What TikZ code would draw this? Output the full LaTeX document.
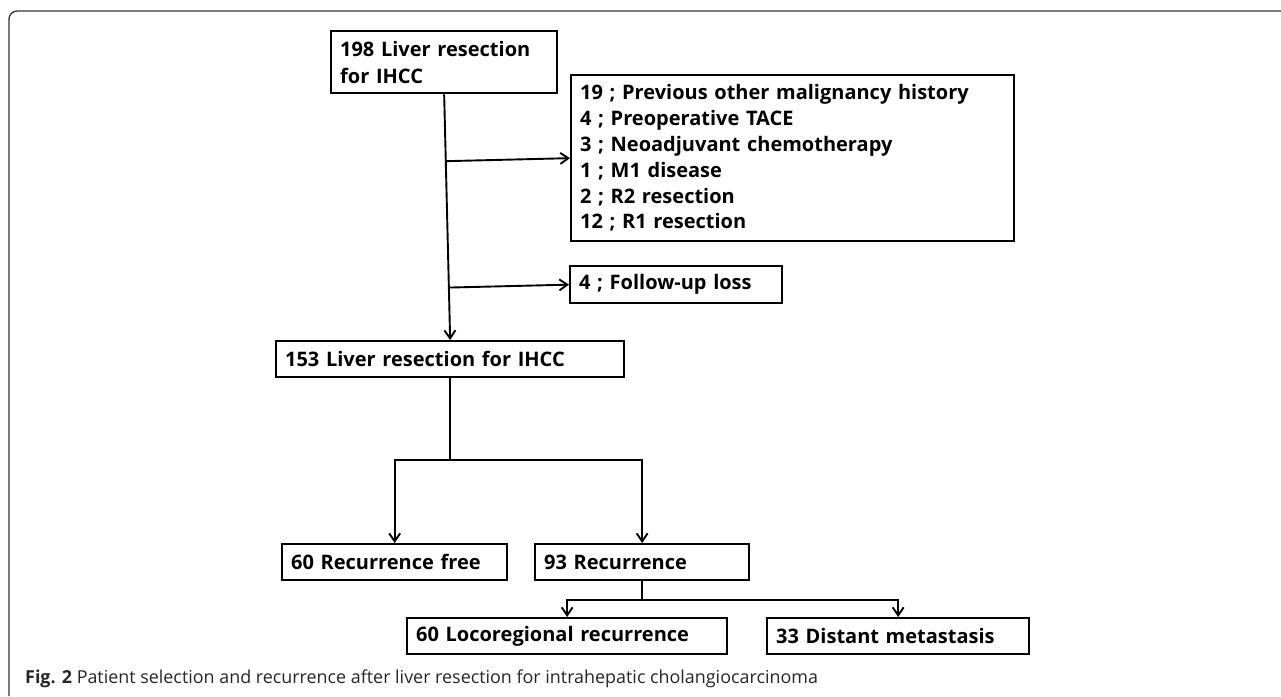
\documentclass[tikz,border=0pt]{standalone}
\usepackage{fontspec}
\setmainfont{Open Sans}
\usetikzlibrary{arrows.meta,calc}
\begin{document}
\begin{tikzpicture}[x=1pt,y=-1pt,
  box/.style={draw=black, line width=2.3pt, anchor=north west, inner ysep=0pt, inner xsep=9pt, align=left,
    font=\fontsize{20}{27}\selectfont\bfseries},
  arr/.style={line width=1.9pt, -{Straight Barb[length=8pt,width=11pt,line width=1.9pt]}},
  ln/.style={line width=1.9pt},
  frame/.style={draw=black!80, line width=1.3pt, rounded corners=8pt}]
\useasboundingbox (0,0) rectangle (1281,696);
\draw[frame] (1281,11) -- (9,11) -- (9,696);

\node[box, text width=208pt, minimum height=62pt] (A) at (330,30) {198 Liver resection\\for IHCC};
\node[box, text width=425pt, minimum height=166pt, font=\fontsize{20}{25.8}\selectfont\bfseries] (C) at (570,74)
  {19 ; Previous other malignancy history\\4 ; Preoperative TACE\\3 ; Neoadjuvant chemotherapy\\1 ; M1 disease\\2 ; R2 resection\\12 ; R1 resection};
\node[box, text width=194pt, minimum height=37pt] (D) at (569,265) {4 ; Follow-up loss};
\node[box, text width=330pt, minimum height=36pt] (B) at (275,340) {153 Liver resection for IHCC};
\node[box, text width=207pt, minimum height=36pt] (E) at (281,543) {60 Recurrence free};
\node[box, text width=196pt, minimum height=36pt] (F) at (534,543) {93 Recurrence};
\node[box, text width=302pt, minimum height=36pt] (G) at (406,617) {60 Locoregional recurrence};
\node[box, text width=244pt, minimum height=36pt] (H) at (766,617) {33 Distant metastasis};

\draw[arr] (A.south) -- (B.north);
\draw[arr] ($(A.south)!(C.west)!(B.north)$) -- (C.west);
\draw[arr] ($(A.south)!(D.west)!(B.north)$) -- (D.west);

\coordinate (j1) at ($(B.south)+(0,82)$);
\draw[ln] (B.south) -- (j1);
\draw[arr] (j1) -| (E.north);
\draw[arr] (j1) -| (F.north);

\coordinate (j2) at ($(F.south)+(0,19)$);
\draw[ln] (F.south) -- (j2);
\draw[arr] (j2) -| (G.north);
\draw[arr] (j2) -| (H.north);

\node[anchor=base west, inner sep=0pt, text=black!85, font=\fontsize{17.9}{20}\selectfont] (cap) at (25,683)
  {\textbf{Fig. 2} Patient selection and recurrence after liver resection for intrahepatic cholangiocarcinoma};
\end{tikzpicture}
\end{document}
